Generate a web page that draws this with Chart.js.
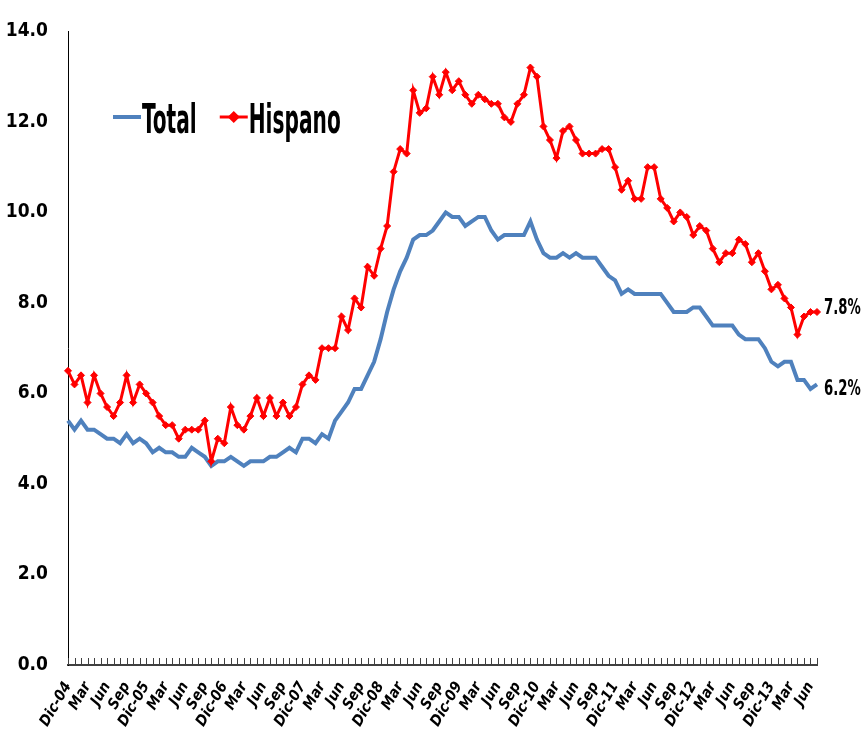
<!DOCTYPE html>
<html>
<head>
<meta charset="utf-8">
<title>Desempleo: Total vs Hispano</title>
<script src="https://cdn.jsdelivr.net/npm/chart.js@4.4.1/dist/chart.umd.min.js"></script>
<style>
  html, body { margin: 0; padding: 0; background: #fff; }
  .chart-box { position: relative; width: 863px; height: 748px; }
</style>
</head>
<body>
<div class="chart-box"><canvas id="myChart"></canvas></div>
<script>
// monthly series, Dic-04 .. Jul-14
const monthNames = ['Ene', 'Feb', 'Mar', 'Abr', 'May', 'Jun', 'Jul', 'Ago', 'Sep', 'Oct', 'Nov', 'Dic'];
const firstYear = 2004;
const firstMonth = 11; // Dic
const shownMonths = ['Mar', 'Jun', 'Sep', 'Dic'];

const totalRate = [
  5.4, 5.2, 5.4, 5.2, 5.2, 5.1, 5.0, 5.0, 4.9, 5.1, 4.9, 5.0, 4.9,
  4.7, 4.8, 4.7, 4.7, 4.6, 4.6, 4.8, 4.7, 4.6, 4.4, 4.5, 4.5,
  4.6, 4.5, 4.4, 4.5, 4.5, 4.5, 4.6, 4.6, 4.7, 4.8, 4.7, 5.0,
  5.0, 4.9, 5.1, 5.0, 5.4, 5.6, 5.8, 6.1, 6.1, 6.4, 6.7, 7.2,
  7.8, 8.3, 8.7, 9.0, 9.4, 9.5, 9.5, 9.6, 9.8, 10.0, 9.9, 9.9,
  9.7, 9.8, 9.9, 9.9, 9.6, 9.4, 9.5, 9.5, 9.5, 9.5, 9.8, 9.4,
  9.1, 9.0, 9.0, 9.1, 9.0, 9.1, 9.0, 9.0, 9.0, 8.8, 8.6, 8.5,
  8.2, 8.3, 8.2, 8.2, 8.2, 8.2, 8.2, 8.0, 7.8, 7.8, 7.8, 7.9,
  7.9, 7.7, 7.5, 7.5, 7.5, 7.5, 7.3, 7.2, 7.2, 7.2, 7.0, 6.7,
  6.6, 6.7, 6.7, 6.3, 6.3, 6.1, 6.2
];

const hispanoRate = [
  6.5, 6.2, 6.4, 5.8, 6.4, 6.0, 5.7, 5.5, 5.8, 6.4, 5.8, 6.2, 6.0,
  5.8, 5.5, 5.3, 5.3, 5.0, 5.2, 5.2, 5.2, 5.4, 4.5, 5.0, 4.9,
  5.7, 5.3, 5.2, 5.5, 5.9, 5.5, 5.9, 5.5, 5.8, 5.5, 5.7, 6.2,
  6.4, 6.3, 7.0, 7.0, 7.0, 7.7, 7.4, 8.1, 7.9, 8.8, 8.6, 9.2,
  9.7, 10.9, 11.4, 11.3, 12.7, 12.2, 12.3, 13.0, 12.6, 13.1, 12.7, 12.9,
  12.6, 12.4, 12.6, 12.5, 12.4, 12.4, 12.1, 12.0, 12.4, 12.6, 13.2, 13.0,
  11.9, 11.6, 11.2, 11.8, 11.9, 11.6, 11.3, 11.3, 11.3, 11.4, 11.4, 11.0,
  10.5, 10.7, 10.3, 10.3, 11.0, 11.0, 10.3, 10.1, 9.8, 10.0, 9.9, 9.5,
  9.7, 9.6, 9.2, 8.9, 9.1, 9.1, 9.4, 9.3, 8.9, 9.1, 8.7, 8.3,
  8.4, 8.1, 7.9, 7.3, 7.7, 7.8, 7.8
];

const yMin = 0;
const yMax = 14;
const yStep = 2;

const narrow = "'Liberation Sans Narrow', 'DejaVu Sans Condensed', sans-serif";

const categories = [];
for (let i = 0; i < totalRate.length; i++) {
  const m = (firstMonth + i) % 12;
  const yr = firstYear + Math.floor((firstMonth + i) / 12);
  categories.push(monthNames[m] + '-' + String(yr).slice(2));
}

// text squeezed sideways, like the narrow bold face of the original
function squeezedText(ctx, text, x, y, sx) {
  ctx.save();
  ctx.translate(x, y);
  ctx.scale(sx, 1);
  ctx.fillText(text, 0, 0);
  ctx.restore();
  return ctx.measureText(text).width * sx;
}

const app = {
  // small tick marks standing on the x axis, one per month
  insideTicks: {
    id: 'insideTicks',
    afterDraw: function(chart) {
      const ctx = chart.ctx;
      const area = chart.chartArea;
      const xScale = chart.scales.x;
      ctx.save();
      ctx.strokeStyle = '#404040';
      ctx.lineWidth = 1;
      for (let i = 0; i < categories.length; i++) {
        const px = Math.round(xScale.getPixelForValue(i)) + 0.5;
        ctx.beginPath();
        ctx.moveTo(px, area.bottom);
        ctx.lineTo(px, area.bottom - 7);
        ctx.stroke();
      }
      ctx.restore();
    }
  },
  // last value written next to the end of each line
  endLabels: {
    id: 'endLabels',
    afterDatasetsDraw: function(chart) {
      const ctx = chart.ctx;
      ctx.save();
      ctx.font = 'bold 22px ' + narrow;
      ctx.fillStyle = '#000';
      ctx.textBaseline = 'middle';
      chart.data.datasets.forEach(function(ds, idx) {
        const meta = chart.getDatasetMeta(idx);
        const last = meta.data[meta.data.length - 1];
        const value = ds.data[ds.data.length - 1];
        const dy = ds.label === 'Hispano' ? -4 : 5;
        squeezedText(ctx, value.toFixed(1) + '%', last.x + 7, last.y + dy, 0.67);
      });
      ctx.restore();
    }
  },
  // legend inside the plot, upper left
  legendBox: {
    id: 'legendBox',
    afterDraw: function(chart) {
      const ctx = chart.ctx;
      const left = chart.chartArea.left;
      const rowY = 117;
      let x = left + 45;
      ctx.save();
      chart.data.datasets.forEach(function(ds) {
        ctx.strokeStyle = ds.borderColor;
        ctx.lineWidth = ds.borderWidth;
        ctx.beginPath();
        ctx.moveTo(x, rowY);
        ctx.lineTo(x + 28, rowY);
        ctx.stroke();
        if (ds.pointRadius > 0) {
          Chart.helpers.drawPoint(ctx, {pointStyle: ds.pointStyle, radius: ds.pointRadius + 0.5, borderWidth: 1}, x + 14, rowY);
          ctx.fillStyle = ds.pointBackgroundColor;
          ctx.fill();
        }
        ctx.fillStyle = '#000';
        ctx.font = 'bold 40px ' + narrow;
        ctx.textBaseline = 'alphabetic';
        const w = squeezedText(ctx, ds.label, x + 29, rowY + 16, 0.56);
        x += 29 + w + 23;
      });
      ctx.restore();
    }
  },
  initChart: function() {
    const thisApp = this;

    thisApp.ctx = document.getElementById('myChart').getContext('2d');
    thisApp.chart = new Chart(thisApp.ctx, {
      type: 'line',
      data: {
        labels: categories,
        datasets: [{
          label: 'Total',
          data: totalRate,
          borderColor: '#4F81BD',
          backgroundColor: '#4F81BD',
          borderWidth: 4,
          pointRadius: 0,
          tension: 0,
          order: 1,
        },
        {
          label: 'Hispano',
          data: hispanoRate,
          borderColor: '#FF0000',
          backgroundColor: '#FF0000',
          pointBackgroundColor: '#FF0000',
          pointBorderColor: '#FF0000',
          borderWidth: 3,
          pointStyle: 'rectRot',
          pointRadius: 3.5,
          pointBorderWidth: 1,
          tension: 0,
          order: 0,
        }]
      },
      options: {
        responsive: true,
        maintainAspectRatio: false,
        animation: false,
        layout: {padding: {left: 0, right: 46, top: 23, bottom: 0}},
        plugins: {
          legend: {display: false},
          tooltip: {enabled: false},
        },
        scales: {
          x: {
            type: 'category',
            offset: false,
            grid: {drawOnChartArea: false, drawTicks: false},
            border: {display: true, color: '#404040', width: 2},
            ticks: {
              autoSkip: false,
              minRotation: 60,
              maxRotation: 60,
              padding: 14,
              color: '#000',
              font: {family: narrow, size: 15, weight: 'bold', style: 'italic'},
              callback: function(value, index) {
                const label = categories[index];
                const name = label.slice(0, 3);
                if (name === 'Dic') return label;
                return shownMonths.includes(name) ? name : '';
              }
            },
            afterFit: function(scale) { scale.height = 83; }
          },
          y: {
            min: yMin,
            max: yMax,
            grid: {drawOnChartArea: false, drawTicks: false},
            border: {display: true, color: '#000', width: 1},
            ticks: {
              stepSize: yStep,
              padding: 20,
              color: '#000',
              font: {family: narrow, size: 19, weight: 'bold'},
              callback: function(value) { return value.toFixed(1); }
            },
            afterFit: function(scale) { scale.width = 68; }
          }
        }
      },
      plugins: [thisApp.insideTicks, thisApp.endLabels, thisApp.legendBox],
    });
  },
  init: function() {
    const thisApp = this;

    thisApp.initChart();
  },
};

app.init();
</script>
</body>
</html>
